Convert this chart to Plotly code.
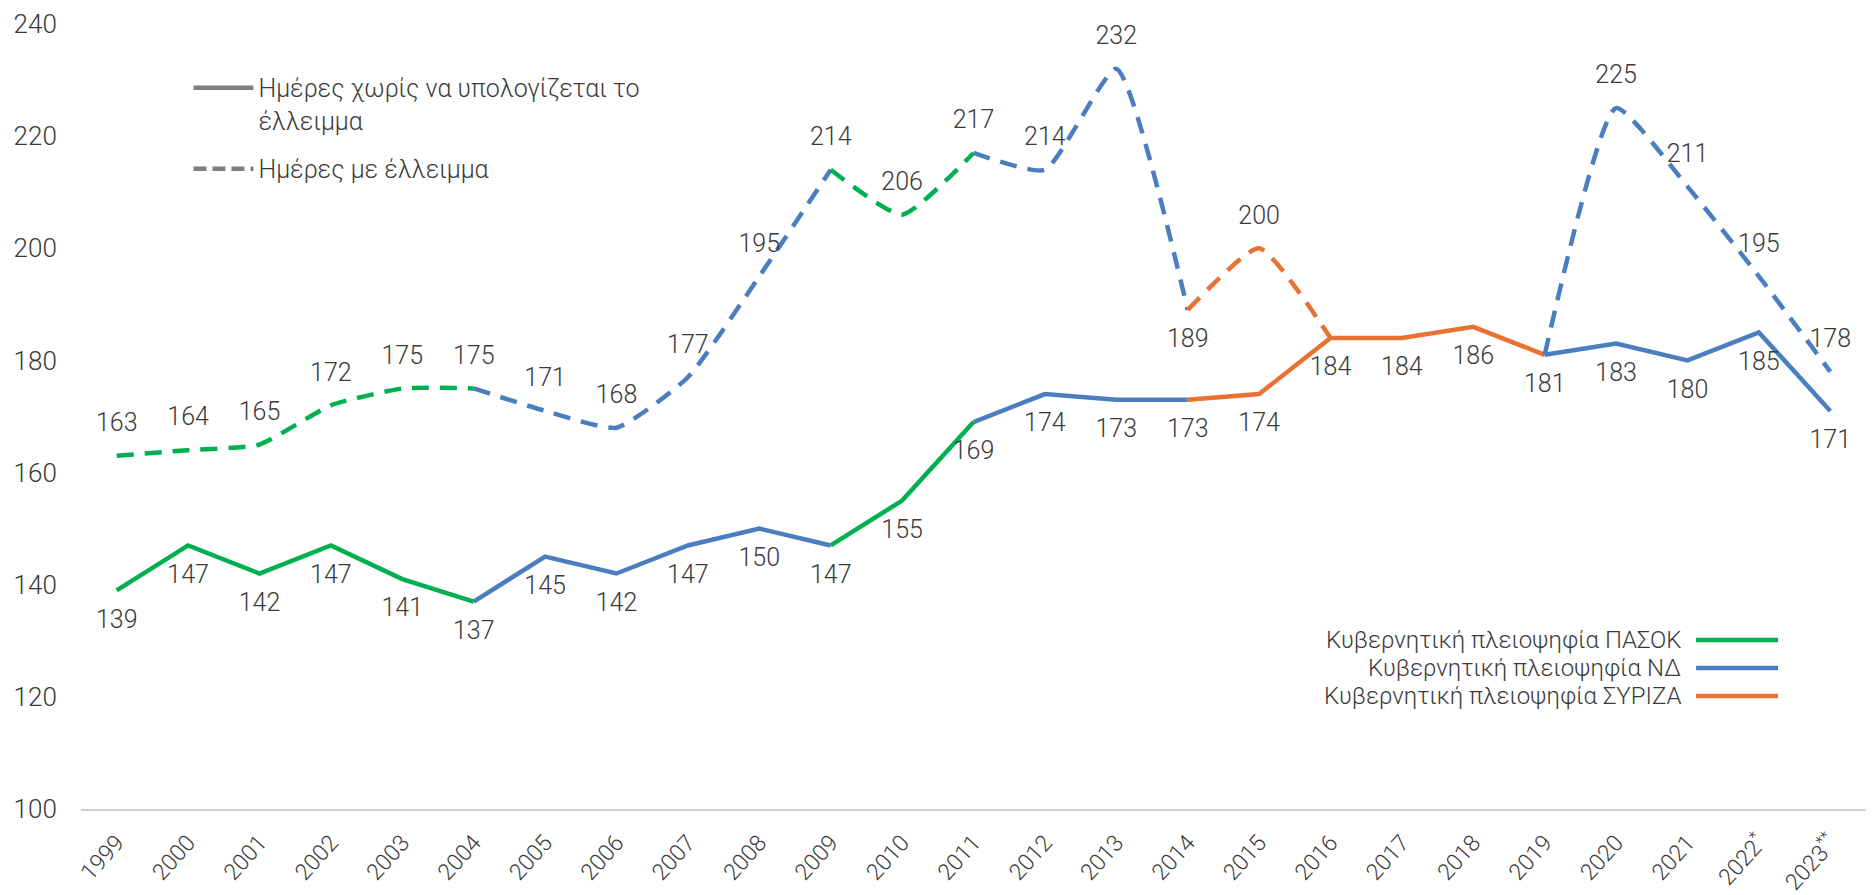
import plotly.graph_objects as go

# ---------------- data ----------------
years = ["1999", "2000", "2001", "2002", "2003", "2004", "2005", "2006", "2007",
         "2008", "2009", "2010", "2011", "2012", "2013", "2014", "2015", "2016",
         "2017", "2018", "2019", "2020", "2021", "2022", "2023"]
year_labels = years[:-2] + ["2022<sup>*</sup>", "2023<sup>**</sup>"]

days_without_deficit = [139, 147, 142, 147, 141, 137, 145, 142, 147, 150, 147, 155,
                        169, 174, 173, 173, 174, 184, 184, 186, 181, 183, 180, 185, 171]
days_with_deficit = [163, 164, 165, 172, 175, 175, 171, 168, 177, 195, 214, 206,
                     217, 214, 232, 189, 200, 184, None, None, 181, 225, 211, 195, 178]

# governing majority for each interval (year i -> year i+1)
interval_party = (["ΠΑΣΟΚ"] * 5 + ["ΝΔ"] * 5 + ["ΠΑΣΟΚ"] * 2 + ["ΝΔ"] * 3
                  + ["ΣΥΡΙΖΑ"] * 5 + ["ΝΔ"] * 4)

parties = ["ΠΑΣΟΚ", "ΝΔ", "ΣΥΡΙΖΑ"]
party_legend = ["Κυβερνητική πλειοψηφία ΠΑΣΟΚ", "Κυβερνητική πλειοψηφία ΝΔ",
                "Κυβερνητική πλειοψηφία ΣΥΡΙΖΑ"]
series_legend = ["Ημέρες χωρίς να υπολογίζεται το<br>έλλειμμα", "Ημέρες με έλλειμμα"]

# labels of the deficit series (hidden where they coincide with the other series)
deficit_label_hidden = {"2016", "2019"}
deficit_label_below = {"2014"}

# ---------------- styles ----------------
party_color = {"ΠΑΣΟΚ": "#00B050", "ΝΔ": "#4A7EBF", "ΣΥΡΙΖΑ": "#E97132"}
TEXT = "#3A3A3A"
FONT = "Roboto"
FS = 25
WEIGHT = 300
LW = 4.5
DASH = "17px,11px"


def runs(parties_by_interval):
    out = []
    start = 0
    for i in range(1, len(parties_by_interval) + 1):
        if i == len(parties_by_interval) or parties_by_interval[i] != parties_by_interval[start]:
            out.append((start, i, parties_by_interval[start]))
            start = i
    return out


fig = go.Figure()

for s, e, p in runs(interval_party):
    fig.add_trace(go.Scatter(
        x=years[s:e + 1], y=days_without_deficit[s:e + 1], mode="lines",
        line=dict(color=party_color[p], width=LW), showlegend=False, hoverinfo="skip"))
    fig.add_trace(go.Scatter(
        x=years[s:e + 1], y=days_with_deficit[s:e + 1], mode="lines",
        line=dict(color=party_color[p], width=LW, dash=DASH, shape="spline", smoothing=0.5),
        connectgaps=False, showlegend=False, hoverinfo="skip"))

label_font = dict(family=FONT, size=FS, color=TEXT, weight=WEIGHT)

# data labels
fig.add_trace(go.Scatter(
    x=years, y=days_without_deficit, mode="markers+text",
    text=[str(v) for v in days_without_deficit],
    textposition="bottom center",
    marker=dict(size=28, opacity=0),
    textfont=label_font,
    cliponaxis=False, showlegend=False, hoverinfo="skip"))

fig.add_trace(go.Scatter(
    x=years, y=days_with_deficit, mode="markers+text",
    text=["" if (v is None or y in deficit_label_hidden) else str(v)
          for y, v in zip(years, days_with_deficit)],
    textposition=["bottom center" if y in deficit_label_below else "top center" for y in years],
    marker=dict(size=28, opacity=0),
    textfont=label_font,
    cliponaxis=False, showlegend=False, hoverinfo="skip"))

# legend entries for line style (top-left legend)
fig.add_trace(go.Scatter(x=[None], y=[None], mode="lines", name=series_legend[0],
                         legendgroup="a", line=dict(color="#7F7F7F", width=LW)))
fig.add_trace(go.Scatter(x=[None], y=[None], mode="lines", name=series_legend[1],
                         legendgroup="b", line=dict(color="#7F7F7F", width=LW, dash="13px,6px")))

# party legend (bottom-right): text then a colored line sample
for i, (p, lab) in enumerate(zip(parties, party_legend)):
    yy = 0.2153 - i * 0.0357
    fig.add_annotation(x=0.8975, y=yy, xref="paper", yref="paper", text=lab,
                       showarrow=False, xanchor="right", yanchor="middle",
                       font=dict(family=FONT, size=FS - 1, color=TEXT, weight=WEIGHT))
    fig.add_shape(type="line", xref="paper", yref="paper", x0=0.9048, x1=0.9507,
                  y0=yy, y1=yy, line=dict(color=party_color[p], width=LW))

fig.update_layout(
    width=1868, height=887,
    margin=dict(l=73, r=10, t=16, b=86, autoexpand=False),
    paper_bgcolor="white", plot_bgcolor="white",
    font=dict(family=FONT, size=FS, color=TEXT, weight=WEIGHT),
    legend=dict(x=0.0602, y=0.9478, xanchor="left", yanchor="top", valign="top",
                font=dict(family=FONT, size=FS, color=TEXT, weight=WEIGHT),
                itemwidth=60, tracegroupgap=13, bgcolor="rgba(0,0,0,0)"),
    xaxis=dict(type="category", tickmode="array", tickvals=years, ticktext=year_labels,
               range=[-0.5, 24.5], tickangle=-48, showgrid=False, zeroline=False,
               showline=True, linecolor="#D0D0D0", linewidth=2, automargin=False,
               ticks="outside", ticklen=9, tickcolor="rgba(0,0,0,0)",
               tickfont=dict(family=FONT, size=23, color=TEXT, weight=WEIGHT)),
    yaxis=dict(range=[100, 240], dtick=20, showgrid=False, zeroline=False,
               showline=False, ticks="outside", ticklen=18, tickcolor="rgba(0,0,0,0)",
               automargin=False,
               tickfont=dict(family=FONT, size=26, color=TEXT, weight=WEIGHT)),
)

fig.write_html("out.html")
